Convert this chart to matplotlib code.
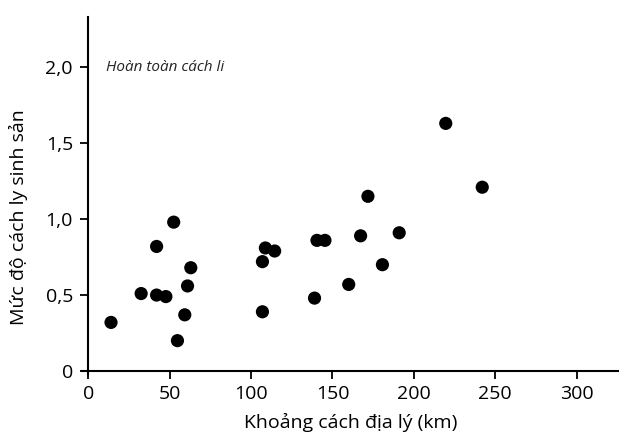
import matplotlib
matplotlib.use("Agg")
import matplotlib.pyplot as plt
from matplotlib.ticker import FixedLocator, FixedFormatter

plt.rcParams['font.family'] = ['Open Sans', 'DejaVu Sans']

# Khoảng cách địa lý (km) và mức độ cách ly sinh sản
khoang_cach = [14, 32.5, 42, 42, 47.7, 52.5, 54.8, 59.3, 61, 63,
               107, 107, 108.8, 114.5, 139, 140.5, 145.4, 160,
               167.3, 171.8, 180.7, 191, 219.6, 242]
cach_ly = [0.32, 0.51, 0.82, 0.50, 0.49, 0.98, 0.20, 0.37, 0.56, 0.68,
           0.72, 0.39, 0.81, 0.79, 0.48, 0.86, 0.86, 0.57,
           0.89, 1.15, 0.70, 0.91, 1.63, 1.21]

x_ticks = [0, 50, 100, 150, 200, 250, 300]
y_ticks = [0, 0.5, 1.0, 1.5, 2.0]
y_tick_labels = ['0', '0,5', '1,0', '1,5', '2,0']

fig = plt.figure(figsize=(6.19, 4.37), dpi=100)
ax = fig.add_axes([0.132, 0.144, 0.868, 0.817])

ax.scatter(khoang_cach, cach_ly, s=90, color='black', edgecolors='none', zorder=3)

ax.set_xlim(-4, 326)
ax.set_ylim(-0.02, 2.33)

ax.spines['top'].set_visible(False)
ax.spines['right'].set_visible(False)
ax.spines['left'].set_position(('data', 0))
ax.spines['bottom'].set_position(('data', 0))
for s in ['left', 'bottom']:
    ax.spines[s].set_linewidth(1.5)

ax.xaxis.set_major_locator(FixedLocator(x_ticks))
ax.yaxis.set_major_locator(FixedLocator(y_ticks))
ax.yaxis.set_major_formatter(FixedFormatter(y_tick_labels))
ax.tick_params(axis='both', labelsize=14, width=1.3, length=6, pad=5)
ax.tick_params(axis='x', pad=4)

ax.text(11, 2.0, 'Hoàn toàn cách li', style='italic', fontsize=11,
        va='center', ha='left', color='#222222')

ax.set_xlabel('Khoảng cách địa lý (km)', fontsize=14)
ax.set_ylabel('Mức độ cách ly sinh sản', fontsize=14)
ax.xaxis.set_label_coords(0.5, -0.11)
ax.yaxis.set_label_coords(-0.1, 0.44)

fig.savefig('out.png', dpi=100)
